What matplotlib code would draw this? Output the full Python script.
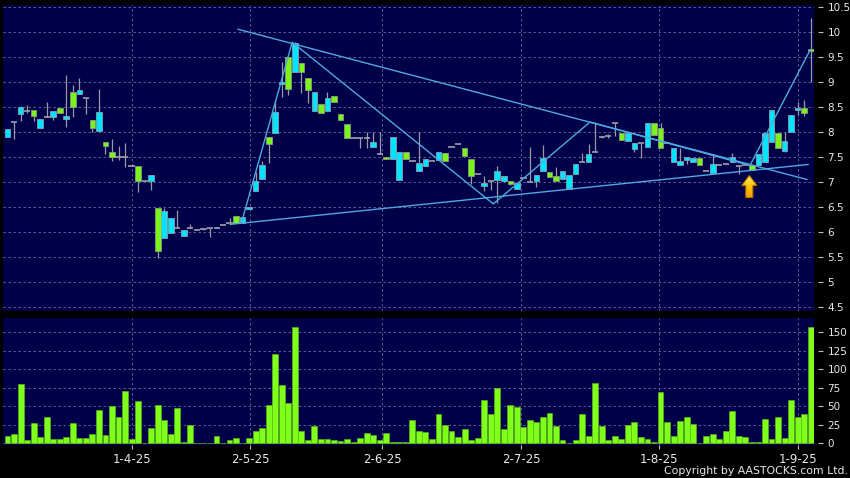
import matplotlib
matplotlib.use('Agg')
import matplotlib.pyplot as plt
import numpy as np
from matplotlib.patches import Rectangle, Polygon

# daily candles, oldest first
opens = [7.90, 8.20, 8.36, 8.43, 8.44, 8.09, 8.30, 8.30, 8.49, 8.26,
         8.80, 8.76, 8.68, 8.24, 8.03, 7.80, 7.60, 7.51, 7.51, 7.32,
         7.32, 7.01, 7.02, 6.48, 5.88, 5.98, 6.07, 5.92, 6.08, 6.04,
         6.06, 6.07, 6.08, 6.13, 6.17, 6.31, 6.18, 6.46, 6.82, 7.05,
         7.90, 7.99, 8.97, 9.51, 9.20, 9.38, 9.08, 8.43, 8.56, 8.43,
         8.72, 8.36, 8.16, 7.89, 7.89, 7.89, 7.70, 7.56, 7.50, 7.45,
         7.03, 7.60, 7.42, 7.22, 7.32, 7.41, 7.43, 7.58, 7.71, 7.77,
         7.69, 7.45, 7.15, 6.91, 7.01, 7.04, 7.01, 7.01, 6.85, 7.07,
         7.00, 7.02, 7.21, 7.20, 7.11, 7.05, 6.85, 7.15, 7.39, 7.39,
         7.61, 7.90, 7.93, 8.19, 7.98, 7.83, 7.67, 7.78, 7.70, 8.19,
         8.08, 7.78, 7.40, 7.33, 7.43, 7.40, 7.48, 7.22, 7.17, 7.34,
         7.36, 7.39, 7.31, 7.33, 7.33, 7.33, 7.40, 7.80, 7.99, 7.63,
         8.00, 8.44, 8.49, 9.66]
highs = [8.06, 8.20, 8.53, 8.55, 8.44, 8.26, 8.61, 8.42, 8.49, 9.15,
         8.95, 9.08, 8.68, 8.24, 8.87, 7.80, 7.86, 7.72, 7.78, 7.32,
         7.32, 7.01, 7.13, 6.48, 6.48, 6.28, 6.43, 6.04, 6.15, 6.04,
         6.08, 6.07, 6.10, 6.13, 6.27, 6.31, 6.30, 6.50, 7.20, 7.41,
         7.90, 8.63, 9.40, 9.51, 9.80, 9.38, 9.08, 8.80, 8.56, 8.81,
         8.72, 8.36, 8.16, 7.89, 7.89, 8.01, 8.01, 8.01, 7.50, 7.90,
         7.61, 7.60, 7.42, 8.01, 7.45, 7.41, 7.60, 7.58, 7.71, 7.77,
         7.69, 7.45, 7.15, 7.11, 7.01, 7.32, 7.11, 7.01, 7.00, 7.07,
         7.71, 7.13, 7.75, 7.20, 7.30, 7.21, 7.14, 7.35, 7.59, 7.77,
         8.20, 7.92, 7.96, 8.19, 7.98, 7.98, 7.78, 7.78, 8.19, 8.19,
         8.19, 7.78, 7.69, 7.69, 7.50, 7.48, 7.48, 7.22, 7.57, 7.34,
         7.36, 7.58, 7.31, 7.33, 7.33, 7.57, 7.99, 8.45, 7.99, 8.00,
         8.35, 8.60, 8.65, 10.28]
lows = [7.90, 7.86, 8.22, 8.38, 8.23, 8.09, 8.30, 8.25, 8.38, 8.11,
        8.31, 8.76, 8.36, 8.00, 8.03, 7.57, 7.41, 7.43, 7.30, 7.32,
        6.79, 7.01, 6.83, 5.47, 5.88, 5.98, 6.07, 5.92, 6.08, 6.04,
        6.03, 5.90, 6.08, 6.13, 6.17, 6.17, 6.18, 6.46, 6.82, 7.05,
        7.38, 7.99, 8.71, 8.75, 9.20, 8.79, 8.58, 8.43, 8.38, 8.43,
        8.61, 8.25, 7.88, 7.89, 7.69, 7.69, 7.70, 7.56, 7.45, 7.45,
        7.03, 7.46, 7.42, 7.22, 7.32, 7.41, 7.43, 7.41, 7.71, 7.77,
        7.53, 6.95, 7.15, 6.82, 6.84, 6.57, 7.01, 6.93, 6.85, 7.07,
        7.00, 6.90, 7.21, 7.09, 7.02, 7.05, 6.85, 7.15, 7.39, 7.39,
        7.61, 7.88, 7.88, 7.93, 7.85, 7.83, 7.60, 7.49, 7.70, 7.94,
        7.69, 7.78, 7.40, 7.33, 7.36, 7.40, 7.33, 7.22, 7.17, 7.34,
        7.36, 7.39, 7.15, 7.33, 7.24, 7.33, 7.40, 7.80, 7.69, 7.60,
        8.00, 8.34, 8.32, 9.00]
closes = [8.06, 8.20, 8.50, 8.43, 8.33, 8.26, 8.30, 8.42, 8.38, 8.32,
          8.50, 8.84, 8.68, 8.08, 8.40, 7.73, 7.50, 7.51, 7.51, 7.32,
          7.01, 7.01, 7.13, 5.61, 6.42, 6.28, 6.07, 6.04, 6.08, 6.04,
          6.06, 6.07, 6.10, 6.13, 6.17, 6.17, 6.30, 6.50, 7.02, 7.33,
          7.76, 8.41, 9.00, 8.86, 9.79, 9.20, 8.84, 8.80, 8.38, 8.69,
          8.61, 8.25, 7.88, 7.89, 7.89, 7.89, 7.80, 7.56, 7.45, 7.90,
          7.61, 7.46, 7.42, 7.38, 7.45, 7.41, 7.60, 7.41, 7.71, 7.77,
          7.53, 7.11, 7.15, 6.97, 7.01, 7.21, 7.11, 6.95, 6.98, 7.07,
          7.00, 7.13, 7.49, 7.09, 7.02, 7.21, 7.14, 7.35, 7.39, 7.57,
          7.61, 7.90, 7.93, 8.19, 7.85, 7.98, 7.78, 7.78, 8.19, 7.94,
          7.69, 7.78, 7.69, 7.42, 7.50, 7.48, 7.33, 7.22, 7.35, 7.34,
          7.36, 7.50, 7.31, 7.33, 7.24, 7.57, 7.99, 8.45, 7.69, 7.83,
          8.35, 8.49, 8.39, 9.62]
volumes = [10, 12.6, 80, 5, 27, 8.5, 35, 6, 6, 8.5,
           28, 7.6, 6.7, 13, 45, 11, 50, 36, 70, 5.4,
           56.5, 0, 20, 51, 32, 12, 47, 1.3, 25, 0.3,
           0.3, 1, 9.4, 0.5, 4.5, 7.6, 1, 7.6, 16.6, 20,
           51, 120, 78, 54, 157, 16.6, 5, 23, 5.8, 5.8,
           5, 3.6, 5.8, 1.8, 7.6, 14.4, 11, 4, 14.4, 1.3,
           1.8, 1.8, 32, 17, 15, 5.8, 40, 24, 16, 9,
           19, 4.5, 7, 59, 39, 74, 19, 51, 48.5, 22.4,
           31, 29, 35, 41, 23, 4.5, 1, 4, 40, 10,
           81, 23, 4, 10, 6, 24, 29, 9, 6, 1.3,
           69, 29, 10, 30, 35, 26, 0.3, 10, 13, 6,
           16, 44, 9.4, 8, 1.8, 1.8, 33, 6, 36, 7.6,
           58, 35, 40, 157]

date_pos = [19.0, 37.2, 57.4, 78.7, 99.8, 121.1]
date_labels = ['1-4-25', '2-5-25', '2-6-25', '2-7-25', '1-8-25', '1-9-25']

# drawn trend lines (bar index, price)
zigzag_x = [35.8, 43.6, 74.4, 89.2, 113.7, 122.9]
zigzag_y = [6.17, 9.80, 6.56, 8.20, 7.33, 9.64]
resist_x = [35.3, 122.4]
resist_y = [10.06, 7.05]
support_x = [34.1, 122.6]
support_y = [6.15, 7.35]

NAVY = '#000048'
UP = '#00e5ff'
DOWN = '#7af51a'
GRID = '#6a6a9c'
LINE = '#4fa8e0'
TXT = '#e8e8e8'

fig = plt.figure(figsize=(8.5, 4.78), dpi=100, facecolor='black')
ax = fig.add_axes([3/850, 1-310.7/478, 811.3/850, 305.7/478], facecolor=NAVY)
axv = fig.add_axes([3/850, 1-444.5/478, 811.3/850, 126.2/478], facecolor=NAVY)

n = len(opens)
idx = np.arange(n)
w = 0.86
xmax = -0.69 + 811.3 / 6.53

for i in idx:
    o, h, l, c = opens[i], highs[i], lows[i], closes[i]
    ax.vlines(i, l, h, color='#9a9aa6', lw=0.9, zorder=2)
    if c > o:
        ax.add_patch(Rectangle((i - w/2, o), w, c - o, facecolor=UP,
                               edgecolor='#8aa0b0', lw=0.6, zorder=3))
    elif c < o:
        ax.add_patch(Rectangle((i - w/2, c), w, o - c, facecolor=DOWN,
                               edgecolor='#8a9a80', lw=0.6, zorder=3))
    else:
        ax.hlines(o, i - w/2 - 0.05, i + w/2 + 0.05, color='#a0a0aa', lw=1.2, zorder=3)

ax.plot(zigzag_x, zigzag_y, color=LINE, lw=1.0, zorder=4)
ax.plot(resist_x, resist_y, color=LINE, lw=1.0, zorder=4)
ax.plot(support_x, support_y, color=LINE, lw=1.0, zorder=4)

# yellow arrow marker
ax_x, ax_tip = 113.6, 7.13
sx, sy = 1 / 6.53, 1 / 49.8
verts = [(ax_x, ax_tip),
         (ax_x - 7.5*sx, ax_tip - 10*sy), (ax_x - 3.5*sx, ax_tip - 10*sy),
         (ax_x - 3.5*sx, ax_tip - 22*sy), (ax_x + 3.5*sx, ax_tip - 22*sy),
         (ax_x + 3.5*sx, ax_tip - 10*sy), (ax_x + 7.5*sx, ax_tip - 10*sy)]
arrow = Polygon(verts, closed=True, facecolor='none', edgecolor='#b87000', lw=0.8, zorder=6)
ax.add_patch(arrow)
grad = np.linspace(0, 1, 50).reshape(-1, 1)
cmap = matplotlib.colors.LinearSegmentedColormap.from_list('arr', ['#fff27a', '#ffc400', '#f0a000'])
im = ax.imshow(grad, cmap=cmap, aspect='auto', zorder=5, origin='upper',
               extent=[ax_x - 7.5*sx, ax_x + 7.5*sx, ax_tip - 22*sy, ax_tip])
im.set_clip_path(arrow)

ax.set_xlim(-0.69, xmax)
ax.set_ylim(4.42, 10.546)

axv.bar(idx, volumes, width=0.9, color='#80ff1a', edgecolor='#5cc010', lw=0.4, zorder=3)
axv.set_xlim(-0.69, xmax)
axv.set_ylim(-1.6, 168.4)

for a in (ax, axv):
    for s in a.spines.values():
        s.set_visible(False)
    a.spines['right'].set_position(('outward', 3))
    a.yaxis.tick_right()
    a.set_xticks(date_pos)
    a.grid(True, color=GRID, linestyle=(0, (3, 3)), lw=0.6, zorder=0)
    a.set_axisbelow(True)
    a.tick_params(axis='y', colors='#c0c0c0', labelcolor=TXT, length=3.5,
                  width=0.8, pad=3, labelsize=7.5)

ax.set_yticks(np.arange(4.5, 10.51, 0.5))
ax.set_yticklabels(['%g' % v for v in np.arange(4.5, 10.51, 0.5)])
ax.tick_params(axis='x', length=0, labelbottom=False)

axv.set_yticks(range(0, 151, 25))
axv.set_xticklabels(date_labels)
axv.tick_params(axis='x', colors='#c0c0c0', labelcolor=TXT, length=3,
                width=0.8, pad=3, labelsize=8.5)

fig.text(0.997, 1 - 471/478, 'Copyright by AASTOCKS.com Ltd.', ha='right',
         va='center', color=TXT, fontsize=7.8)

fig.savefig('out.png', dpi=100, facecolor='black')
